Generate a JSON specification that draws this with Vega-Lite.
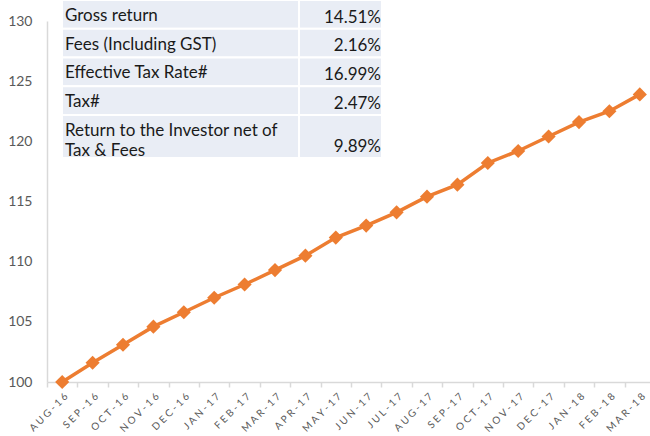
{
  "$schema": "https://vega.github.io/schema/vega-lite/v6.json",
  "width": 603,
  "height": 361,
  "autosize": {"type": "none"},
  "padding": {"left": 47, "top": 21, "right": 0, "bottom": 54},
  "background": "white",
  "config": {"view": {"stroke": null}, "font": "Lato"},
  "datasets": {
    "series": [
      {"month": "AUG-16", "value": 100.0},
      {"month": "SEP-16", "value": 101.6},
      {"month": "OCT-16", "value": 103.1},
      {"month": "NOV-16", "value": 104.6},
      {"month": "DEC-16", "value": 105.8},
      {"month": "JAN-17", "value": 107.0},
      {"month": "FEB-17", "value": 108.1},
      {"month": "MAR-17", "value": 109.3},
      {"month": "APR-17", "value": 110.5},
      {"month": "MAY-17", "value": 112.0},
      {"month": "JUN-17", "value": 113.0},
      {"month": "JUL-17", "value": 114.1},
      {"month": "AUG-17", "value": 115.4},
      {"month": "SEP-17", "value": 116.4},
      {"month": "OCT-17", "value": 118.2},
      {"month": "NOV-17", "value": 119.2},
      {"month": "DEC-17", "value": 120.4},
      {"month": "JAN-18", "value": 121.6},
      {"month": "FEB-18", "value": 122.5},
      {"month": "MAR-18", "value": 123.9}
    ],
    "table": [
      {"metric": "Gross return", "value": "14.51%", "row_from": 0, "row_to": 1},
      {"metric": "Fees (Including GST)", "value": "2.16%", "row_from": 1, "row_to": 2},
      {"metric": "Effective Tax Rate#", "value": "16.99%", "row_from": 2, "row_to": 3},
      {"metric": "Tax#", "value": "2.47%", "row_from": 3, "row_to": 4},
      {"metric": "Return to the Investor net of\nTax & Fees", "value": "9.89%", "row_from": 4, "row_to": 5.5}
    ]
  },
  "layer": [
    {
      "data": {"name": "series"},
      "encoding": {
        "x": {
          "field": "month",
          "type": "ordinal",
          "sort": null,
          "scale": {"type": "band", "paddingInner": 0, "paddingOuter": 0, "range": [0, 608]},
          "axis": {
            "title": null,
            "labelAngle": -45,
            "labelFontSize": 10,
            "labelColor": "#595959",
            "labelFont": "Lato",
            "labelOverlap": false,
            "labelBound": false,
            "labelPadding": 4,
            "labelExpr": "join(split(datum.label, ''), '\u2009\u2009')",
            "domainColor": "#d9d9d9",
            "domainWidth": 1.5,
            "tickColor": "#d9d9d9",
            "tickWidth": 1.5,
            "tickSize": 5,
            "tickBand": "extent",
            "grid": false
          }
        },
        "y": {
          "field": "value",
          "type": "quantitative",
          "scale": {"domain": [100, 130], "nice": false, "zero": false},
          "axis": {
            "title": null,
            "values": [100, 105, 110, 115, 120, 125, 130],
            "ticks": false,
            "grid": false,
            "labelFontSize": 14,
            "labelFont": "Lato",
            "labelColor": "#595959",
            "labelPadding": 15,
            "domainColor": "#d9d9d9",
            "domainWidth": 1.5
          }
        }
      },
      "layer": [
        {"mark": {"type": "line", "color": "#ED7D31", "strokeWidth": 3.5}},
        {"mark": {"type": "point", "shape": "diamond", "filled": true, "size": 200, "color": "#ED7D31", "opacity": 1}}
      ]
    },
    {
      "data": {"name": "table"},
      "layer": [
        {
          "mark": {"type": "rect", "color": "#E9EDF5", "stroke": "white", "strokeWidth": 2},
          "encoding": {
            "x": {"datum": 0, "type": "quantitative", "scale": {"domain": [0, 100], "range": [15, 335]}, "axis": null},
            "x2": {"datum": 74.06},
            "y": {"field": "row_from", "type": "quantitative", "scale": {"domain": [0, 5.5], "range": [-21, 137]}, "axis": null},
            "y2": {"field": "row_to"}
          }
        },
        {
          "mark": {"type": "rect", "color": "#E9EDF5", "stroke": "white", "strokeWidth": 2},
          "encoding": {
            "x": {"datum": 74.06, "type": "quantitative", "scale": {"domain": [0, 100], "range": [15, 335]}, "axis": null},
            "x2": {"datum": 100},
            "y": {"field": "row_from", "type": "quantitative", "scale": {"domain": [0, 5.5], "range": [-21, 137]}, "axis": null},
            "y2": {"field": "row_to"}
          }
        },
        {
          "mark": {"type": "text", "align": "left", "baseline": "top", "dx": 3, "dy": 8, "fontSize": 17, "font": "Lato", "color": "#1a1a1a", "lineBreak": "\n", "lineHeight": 20},
          "encoding": {
            "x": {"datum": 0, "type": "quantitative", "scale": {"domain": [0, 100], "range": [15, 335]}, "axis": null},
            "y": {"field": "row_from", "type": "quantitative", "scale": {"domain": [0, 5.5], "range": [-21, 137]}, "axis": null},
            "text": {"field": "metric"}
          }
        },
        {
          "mark": {"type": "text", "align": "right", "baseline": "bottom", "dx": -1, "dy": -2, "fontSize": 17, "font": "Lato", "color": "#1a1a1a"},
          "encoding": {
            "x": {"datum": 100, "type": "quantitative", "scale": {"domain": [0, 100], "range": [15, 335]}, "axis": null},
            "y": {"field": "row_to", "type": "quantitative", "scale": {"domain": [0, 5.5], "range": [-21, 137]}, "axis": null},
            "text": {"field": "value"}
          }
        }
      ]
    }
  ],
  "resolve": {"scale": {"x": "independent", "y": "independent"}}
}
